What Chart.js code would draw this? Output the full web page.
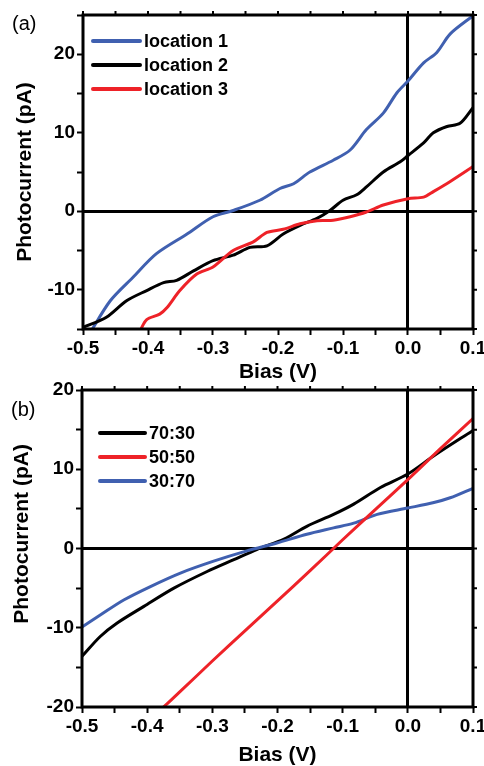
<!DOCTYPE html>
<html>
<head>
<meta charset="utf-8">
<script src="https://cdn.jsdelivr.net/npm/chart.js@4/dist/chart.umd.min.js"></script>
<style>
  body { margin: 0; background: #fff; }
  #wrap { position: relative; width: 484px; height: 766px; overflow: hidden; }
  #wrap canvas { position: absolute; left: 0; }
  .tag { position: absolute; font: 20px "Liberation Sans", Arial, sans-serif; line-height: 20px; color: #000; }
</style>
</head>
<body>
<div id="wrap">
  <canvas id="chartA" width="484" height="383" style="top:0"></canvas>
  <canvas id="chartB" width="484" height="386" style="top:380px"></canvas>
  <div class="tag" style="left:12px;top:13px">(a)</div>
  <div class="tag" style="left:11px;top:399px">(b)</div>
</div>
<script>
// panel (a): three locations
const loc1Bias = [-0.49, -0.458, -0.423, -0.387, -0.34, -0.3, -0.269, -0.228, -0.197, -0.176, -0.151, -0.115, -0.089, -0.064, -0.038, -0.017, 0, 0.024, 0.044, 0.065, 0.1];
const loc1Current = [-15.6, -11.4, -8.4, -5.4, -2.9, -0.7, 0.1, 1.4, 2.9, 3.5, 5.0, 6.5, 7.8, 10.4, 12.5, 15.1, 16.6, 18.9, 20.2, 22.6, 24.9];

const loc2Bias = [-0.5, -0.464, -0.433, -0.402, -0.376, -0.356, -0.33, -0.3, -0.269, -0.243, -0.217, -0.192, -0.166, -0.14, -0.12, -0.1, -0.079, -0.064, -0.038, -0.012, 0, 0.024, 0.039, 0.06, 0.08, 0.1];
const loc2Current = [-14.8, -13.5, -11.4, -10.1, -9.1, -8.8, -7.6, -6.3, -5.6, -4.6, -4.4, -2.9, -1.8, -0.9, 0.1, 1.4, 2.1, 3.1, 5.0, 6.3, 7.1, 8.7, 10.0, 10.8, 11.2, 13.2];

const loc3Bias = [-0.412, -0.402, -0.382, -0.371, -0.351, -0.325, -0.3, -0.269, -0.238, -0.217, -0.192, -0.166, -0.14, -0.115, -0.089, -0.064, -0.038, 0, 0.024, 0.039, 0.065, 0.1];
const loc3Current = [-15.2, -13.8, -13.1, -12.3, -10.1, -8.0, -7.1, -5.0, -3.9, -2.7, -2.3, -1.6, -1.2, -1.15, -0.7, -0.1, 0.8, 1.6, 1.8, 2.5, 3.8, 5.7];

// panel (b): three blend ratios
const r7030Bias = [-0.5, -0.472, -0.446, -0.405, -0.359, -0.308, -0.267, -0.231, -0.19, -0.155, -0.114, -0.083, -0.042, 0, 0.04, 0.1];
const r7030Current = [-13.6, -11.1, -9.4, -7.3, -5.0, -2.9, -1.4, -0.1, 1.2, 2.8, 4.3, 5.6, 7.7, 9.4, 11.7, 14.9];

const r5050Bias = [-0.38, -0.35, -0.3, -0.25, -0.2, -0.15, -0.1, -0.05, 0, 0.05, 0.1];
const r5050Current = [-20.4, -18.1, -14.2, -10.4, -6.6, -2.8, 1.1, 4.9, 8.7, 12.6, 16.4];

const r3070Bias = [-0.5, -0.472, -0.436, -0.395, -0.349, -0.298, -0.247, -0.201, -0.155, -0.114, -0.083, -0.047, 0, 0.04, 0.065, 0.1];
const r3070Current = [-9.9, -8.4, -6.5, -4.8, -3.1, -1.6, -0.3, 0.7, 1.8, 2.6, 3.2, 4.3, 5.1, 5.8, 6.4, 7.6];

// tick labels
const biasLabels = [-0.5, -0.4, -0.3, -0.2, -0.1, 0.0, 0.1];
const currentLabelsA = [-10, 0, 10, 20];
const currentLabelsB = [-20, -10, 0, 10, 20];

const BLUE = '#4060b0';
const BLACK = '#000000';
const RED = '#ee2228';
const FONT = '"Liberation Sans", Arial, sans-serif';

function pts(xs, ys) {
  return xs.map((x, i) => ({ x: x, y: ys[i] }));
}

function isZero(v) { return Math.abs(v) < 1e-9; }

// box frame + small outward ticks on top/right
const framePlugin = {
  id: 'frame',
  afterDatasetsDraw(chart) {
    const { ctx, chartArea: a, scales } = chart;
    ctx.save();
    ctx.strokeStyle = '#000';
    ctx.lineWidth = 2;
    ctx.beginPath();
    scales.x.ticks.forEach(t => {
      const px = scales.x.getPixelForValue(t.value);
      ctx.moveTo(px, a.top);
      ctx.lineTo(px, a.top - 4);
    });
    scales.y.ticks.forEach(t => {
      const py = scales.y.getPixelForValue(t.value);
      ctx.moveTo(a.right, py);
      ctx.lineTo(a.right + 4, py);
    });
    ctx.stroke();
    ctx.lineWidth = 3;
    ctx.strokeRect(a.left, a.top, a.right - a.left, a.bottom - a.top);
    ctx.restore();
  }
};

// legend drawn inside the plot box
const legendPlugin = {
  id: 'boxLegend',
  afterDraw(chart, args, opts) {
    const { ctx, chartArea: a } = chart;
    ctx.save();
    ctx.font = 'bold 18px ' + FONT;
    ctx.textBaseline = 'middle';
    chart.data.datasets.forEach((ds, i) => {
      const yy = a.top + opts.top + i * opts.gap;
      ctx.strokeStyle = ds.borderColor;
      ctx.lineWidth = 4;
      ctx.lineCap = 'round';
      ctx.beginPath();
      ctx.moveTo(a.left + opts.x1, yy);
      ctx.lineTo(a.left + opts.x2, yy);
      ctx.stroke();
      ctx.fillStyle = '#000';
      ctx.fillText(ds.label, a.left + opts.tx, yy + 1);
    });
    ctx.restore();
  }
};

function makeChart(id, datasets, cfg) {
  return new Chart(document.getElementById(id), {
    type: 'line',
    data: { datasets: datasets },
    plugins: [framePlugin, legendPlugin],
    options: {
      responsive: false,
      animation: false,
      layout: { padding: { top: cfg.padTop, right: 11, left: 0, bottom: 0 } },
      elements: {
        point: { radius: 0 },
        line: { borderWidth: 3, tension: 0.3, borderCapStyle: 'round' }
      },
      plugins: {
        legend: { display: false },
        tooltip: { enabled: false },
        boxLegend: cfg.legend
      },
      scales: {
        x: {
          type: 'linear',
          min: -0.5,
          max: 0.1,
          border: { display: false },
          grid: {
            drawOnChartArea: true,
            color: c => (c.tick && isZero(c.tick.value)) ? '#000' : 'rgba(0,0,0,0)',
            lineWidth: c => (c.tick && isZero(c.tick.value)) ? 3 : 1,
            tickColor: '#000',
            tickWidth: 2,
            tickLength: 6
          },
          ticks: {
            stepSize: 0.05,
            autoSkip: false,
            maxRotation: 0,
            padding: 2,
            color: '#000',
            font: { family: FONT, size: 19, weight: 'bold' },
            callback: v => {
              const r = Math.round(v * 10) / 10;
              return biasLabels.some(b => Math.abs(b - v) < 1e-6) ? (r + 0).toFixed(1) : '';
            }
          },
          title: {
            display: true,
            text: 'Bias (V)',
            color: '#000',
            padding: { top: 0, bottom: 0 },
            font: { family: FONT, size: 21, weight: 'bold', lineHeight: 1 }
          },
          afterFit: s => {
            s.height = cfg.xHeight;
            s.paddingLeft = 0;
            s.paddingRight = 0;
          }
        },
        y: {
          type: 'linear',
          min: cfg.yMin,
          max: cfg.yMax,
          border: { display: false },
          grid: {
            drawOnChartArea: true,
            color: c => (c.tick && isZero(c.tick.value)) ? '#000' : 'rgba(0,0,0,0)',
            lineWidth: c => (c.tick && isZero(c.tick.value)) ? 3 : 1,
            tickColor: '#000',
            tickWidth: 2,
            tickLength: 6
          },
          ticks: {
            stepSize: 5,
            autoSkip: false,
            padding: 2,
            color: '#000',
            font: { family: FONT, size: 19, weight: 'bold' },
            callback: v => cfg.yLabels.includes(v) ? String(v) : ''
          },
          title: {
            display: true,
            text: cfg.yTitle,
            color: '#000',
            padding: { top: cfg.yTitlePad, bottom: 0 },
            font: { family: FONT, size: 21, weight: 'bold', lineHeight: 1 }
          },
          afterFit: s => {
            s.width = cfg.yWidth;
            s.paddingTop = 0;
            s.paddingBottom = 0;
          }
        }
      }
    }
  });
}

makeChart('chartA', [
  { label: 'location 1', data: pts(loc1Bias, loc1Current), borderColor: BLUE, order: 2 },
  { label: 'location 2', data: pts(loc2Bias, loc2Current), borderColor: BLACK, order: 1 },
  { label: 'location 3', data: pts(loc3Bias, loc3Current), borderColor: RED, order: 0 }
], {
  padTop: 15, xHeight: 54, yWidth: 83, yMin: -15, yMax: 25,
  yLabels: currentLabelsA, yTitle: 'Photocurrent (pA)', yTitlePad: 15,
  legend: { x1: 10, x2: 57, tx: 61, top: 26, gap: 24 }
});

makeChart('chartB', [
  { label: '70:30', data: pts(r7030Bias, r7030Current), borderColor: BLACK, order: 2 },
  { label: '50:50', data: pts(r5050Bias, r5050Current), borderColor: RED, order: 0 },
  { label: '30:70', data: pts(r3070Bias, r3070Current), borderColor: BLUE, order: 1 }
], {
  padTop: 10, xHeight: 59, yWidth: 82, yMin: -20, yMax: 20,
  yLabels: currentLabelsB, yTitle: '     Photocurrent (pA)', yTitlePad: 12,
  legend: { x1: 18, x2: 63, tx: 67, top: 43, gap: 24 }
});
</script>
</body>
</html>
